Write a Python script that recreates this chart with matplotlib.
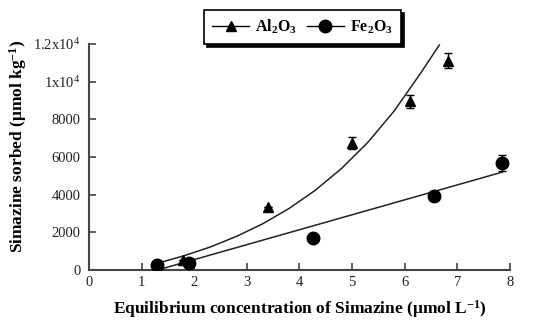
import matplotlib
matplotlib.use("Agg")
import matplotlib.pyplot as plt
from matplotlib.lines import Line2D

plt.rcParams['font.family'] = ['Liberation Serif', 'DejaVu Serif']
plt.rcParams['mathtext.fontset'] = 'custom'
plt.rcParams['mathtext.rm'] = 'Liberation Serif'
plt.rcParams['mathtext.it'] = 'Liberation Serif:italic'
plt.rcParams['mathtext.bf'] = 'Liberation Serif:bold'

# Al2O3 data (triangles)
al_x = [1.79, 3.40, 5.00, 6.10, 6.82]
al_y = [530, 3350, 6740, 8950, 11120]
al_err = [0, 0, 300, 360, 400]

# Fe2O3 data (circles)
fe_x = [1.29, 1.90, 4.26, 6.56, 7.85]
fe_y = [270, 380, 1700, 3940, 5680]
fe_err = [0, 0, 0, 250, 420]

# fitted curves
al_fit_x = [1.30, 1.80, 2.30, 2.80, 3.30, 3.80, 4.30, 4.80, 5.30, 5.80, 6.30, 6.66]
al_fit_y = [355, 750, 1215, 1780, 2450, 3260, 4230, 5390, 6775, 8440, 10435, 11950]
fe_fit_x = [1.38, 7.86]
fe_fit_y = [60, 5200]

x_ticks = [0, 1, 2, 3, 4, 5, 6, 7, 8]
y_ticks = [0, 2000, 4000, 6000, 8000, 10000, 12000]
y_ticklabels = ['0', '2000', '4000', '6000', '8000', r'1x10$^4$', r'1.2x10$^4$']

fig = plt.figure(figsize=(5.5, 3.26), dpi=100)
ax = fig.add_axes([0.1618, 0.1718, 0.927 - 0.1618, 0.865 - 0.1718])

line_col = '#222222'
ax.plot(al_fit_x, al_fit_y, color=line_col, lw=1.1)
ax.plot(fe_fit_x, fe_fit_y, color=line_col, lw=1.1)

ax.errorbar(al_x, al_y, yerr=al_err, fmt='^', color='black', ms=7,
            ecolor='black', elinewidth=1, capsize=3, capthick=1, zorder=3)
ax.errorbar(fe_x, fe_y, yerr=fe_err, fmt='o', color='black', ms=9,
            ecolor='black', elinewidth=1, capsize=3, capthick=1, zorder=3)

ax.set_xlim(0, 8)
ax.set_ylim(0, 12000)
ax.set_xticks(x_ticks)
ax.set_xticklabels([str(t) for t in x_ticks])
ax.set_yticks(y_ticks)
ax.set_yticklabels(y_ticklabels)

for s in ['top', 'right']:
    ax.spines[s].set_visible(False)
for s in ['left', 'bottom']:
    ax.spines[s].set_color('#444444')
    ax.spines[s].set_linewidth(1.5)

ax.tick_params(axis='both', direction='in', length=5, width=1.2,
               color='#444444', labelsize=10.5, labelcolor='#222222')
ax.tick_params(axis='x', pad=4)
ax.tick_params(axis='y', pad=6)

ax.set_xlabel(r'Equilibrium concentration of Simazine ($\mathbf{\mu}$mol L$^{\mathbf{-1}}$)',
              fontsize=12.5, fontweight='bold', labelpad=7)
ax.set_ylabel(r'Simazine sorbed ($\mathbf{\mu}$mol kg$^{\mathbf{-1}}$)',
              fontsize=12.5, fontweight='bold')
ax.yaxis.set_label_coords(-0.143, 0.546)

handles = [
    Line2D([], [], color='black', marker='^', ms=7, lw=1),
    Line2D([], [], color='black', marker='o', ms=9, lw=1),
]
labels = [r'$\mathbf{Al_2O_3}$', r'$\mathbf{Fe_2O_3}$']
leg = ax.legend(handles, labels, loc='center', ncol=2,
                bbox_to_anchor=(0.55, 0.917), bbox_transform=fig.transFigure,
                frameon=True, fancybox=False, shadow={'color': 'black', 'alpha': 1},
                edgecolor='black', framealpha=1, fontsize=11.5,
                handlelength=2.3, columnspacing=0.6, handletextpad=0.4,
                borderpad=0.5)
leg.get_frame().set_linewidth(1.2)

fig.savefig('out.png', dpi=100)
